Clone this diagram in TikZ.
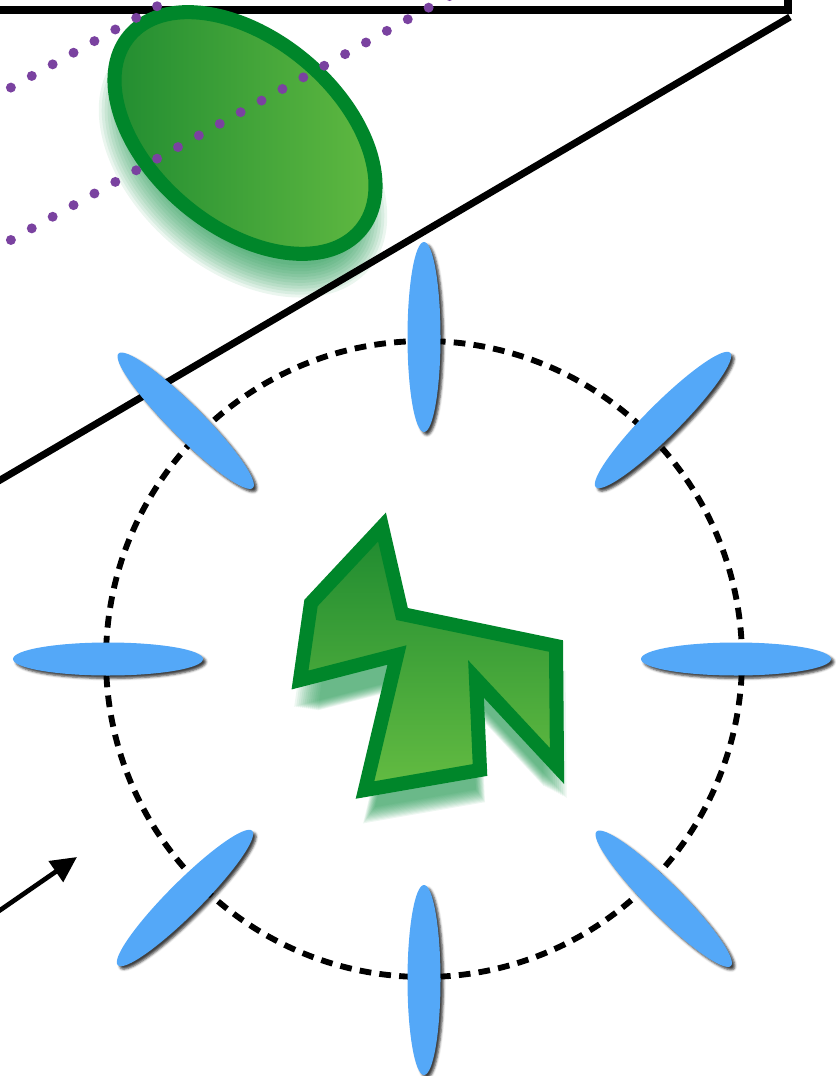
\documentclass[tikz,border=0pt]{standalone}
\usetikzlibrary{calc,shapes.geometric,shadows.blur,arrows.meta}
\definecolor{leafdark}{RGB}{30,138,48}
\definecolor{leaflight}{RGB}{100,188,66}
\definecolor{leafedge}{RGB}{0,134,42}
\definecolor{leafshade}{RGB}{20,145,70}
\definecolor{bladeblue}{RGB}{84,168,248}
\definecolor{trailpurple}{RGB}{122,66,160}
\begin{document}
\begin{tikzpicture}
[x=0.03cm, y=0.03cm]
\tikzstyle{wall}=[line width=6pt]
\tikzstyle{trail}=[trailpurple, line width=8.5pt, line cap=round, dash pattern=on 0pt off 20.4pt]
\tikzstyle{orbit}=[line width=5pt, dash pattern=on 10pt off 7pt]
\tikzstyle{blade}=[ellipse, fill=bladeblue, minimum width=5.7cm, minimum height=0.99cm, inner sep=0mm,
  blur shadow={shadow xshift=2.5pt, shadow yshift=-2.5pt, shadow blur radius=2pt, shadow opacity=75}]
\tikzstyle{pointer}=[line width=4pt, -{Triangle[length=22pt, width=21pt]}]
\useasboundingbox (0,0) rectangle (835,-1076);

\coordinate (hub)   at (424,-659);
\coordinate (leafc) at (245,-133);
\coordinate (leafs) at (243,-163);

% soft shadow under the leaf
\foreach \d in {132,135,...,165}
  \fill[leafshade, opacity=0.085, rotate around={-40:(leafs)}]
    (leafs) ellipse [x radius=\d, y radius=\d-57];

% frame and slope
\draw[wall] (788,10) -- (788,-10) -- (-10,-10);
\draw[wall] (790,-17) -- (-10,-486);

% leaf
\draw[leafedge, line width=12pt, left color=leafdark, right color=leaflight, rotate around={-40:(leafc)}]
  (leafc) ellipse [x radius=151, y radius=94];

% dotted trails
\draw[trail] (-10,-99.2) -- (180,6.5);
\draw[trail] (-10,-251.6) -- (455,7);

% orbit
\draw[orbit] (hub) circle [radius=318];

% zigzag shadow and zigzag
\foreach \s in {0.88,0.895,...,1.06}
  \fill[leafshade, opacity=0.075, shift={(2,-28)}, scale around={\s:(430,-700)}]
    (382,-527) -- (402,-614) -- (556,-646) -- (557,-766) -- (476,-679) -- (480,-770)
    -- (365,-790) -- (397,-655) -- (300,-680) -- (311,-603) -- cycle;
\draw[leafedge, line width=12pt, line join=miter, top color=leafdark, bottom color=leaflight]
  (382,-527) -- (402,-614) -- (556,-646) -- (557,-766) -- (476,-679) -- (480,-770)
  -- (365,-790) -- (397,-655) -- (300,-680) -- (311,-603) -- cycle;

% blades round the orbit
\foreach \a/\r [count=\i] in {0/312, 45/338, 90/322, 135/337, 180/316, 225/338, 270/321, 315/339}
  \node[blade, rotate=\a] (B\i) at ($(hub)+(\a:\r)$) {};

% arrow
\coordinate (tail) at (-4,-913);
\coordinate (tip)  at (77,-857);
\draw[pointer] (tail) -- (tip);
\end{tikzpicture}
\end{document}
